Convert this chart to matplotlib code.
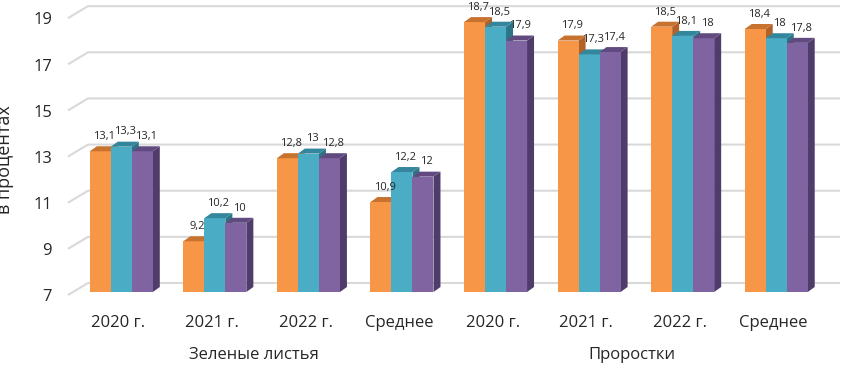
import matplotlib.pyplot as plt
from matplotlib.patches import Polygon

plt.rcParams['font.family'] = ['Open Sans', 'DejaVu Sans']

categories = ['2020 г.', '2021 г.', '2022 г.', 'Среднее',
              '2020 г.', '2021 г.', '2022 г.', 'Среднее']
groups = ['Зеленые листья', 'Проростки']
series_a = [13.1, 9.2, 12.8, 10.9, 18.7, 17.9, 18.5, 18.4]
series_b = [13.3, 10.2, 13.0, 12.2, 18.5, 17.3, 18.1, 18.0]
series_c = [13.1, 10.0, 12.8, 12.0, 17.9, 17.4, 18.0, 17.8]
yticks = [7, 9, 11, 13, 15, 17, 19]

front = ['#F79646', '#4BACC6', '#8064A2']
top = ['#C8722F', '#33869C', '#604A80']
side = ['#B0622A', '#2C7487', '#4F3C6B']

W, H = 844, 366
fig = plt.figure(figsize=(W / 100, H / 100), dpi=100)

# pixel mapping of the front plane
x0, xs = 121.3, 93.56      # px of category 0, px per category
y7, ys = 292.0, 23.07      # px (from top) of value 7, px per unit

def xd(px):
    return (px - x0) / xs

def yd(py):
    return 7 + (y7 - py) / ys

ax = fig.add_axes([60 / W, (H - 300) / H, 784 / W, 300 / H])
ax.set_xlim(xd(60), xd(844))
ax.set_ylim(yd(300), yd(0))
ax.axis('off')

# back wall gridlines with slanted left end
for v in yticks:
    yf = v - 3 / ys
    yb = yf + 12 / ys
    ax.plot([xd(68), xd(88), xd(840)], [yf, yb, yb], color='#D9D9D9', lw=1.5,
            solid_capstyle='butt', zorder=1)
    ax.text(xd(52), v - 0.23, str(v), ha='right', va='center', fontsize=12,
            color='#262626', clip_on=False)

bw = 21 / xs
dx, dy = 7 / xs, 5 / ys
data = [series_a, series_b, series_c]

for i in range(len(categories)):
    for s in range(3):
        v = data[s][i]
        xc = i + (s - 1) * bw
        xl, xr = xc - bw / 2, xc + bw / 2
        z = 2 + i * 3 + s
        ax.add_patch(Polygon([(xr, 7), (xr + dx, 7 + dy), (xr + dx, v + dy), (xr, v)],
                             closed=True, fc=side[s], ec='none', zorder=z))
        ax.bar(xc, v - 7, bottom=7, width=bw, color=front[s], zorder=z)
        ax.add_patch(Polygon([(xl, v), (xr, v), (xr + dx, v + dy), (xl + dx, v + dy)],
                             closed=True, fc=top[s], ec='none', zorder=z))
        lab = ('%g' % v).replace('.', ',')
        ax.annotate(lab, (xc + dx / 2, v + dy), xytext=(0, 3), textcoords='offset points',
                    ha='center', va='bottom', fontsize=8, color='#262626', zorder=50)

for i, c in enumerate(categories):
    ax.text(i - 0.03, yd(323), c, ha='center', va='center', fontsize=12,
            color='#262626', clip_on=False)

ax.text(xd(254), yd(355), groups[0], ha='center', va='center', fontsize=12,
        color='#262626', clip_on=False)
ax.text(xd(632), yd(355), groups[1], ha='center', va='center', fontsize=12,
        color='#262626', clip_on=False)

fig.text(5 / W, 1 - 160 / H, 'в процентах', rotation=90, ha='center', va='center',
         fontsize=13, color='#262626')

fig.savefig('out.png', dpi=100)
